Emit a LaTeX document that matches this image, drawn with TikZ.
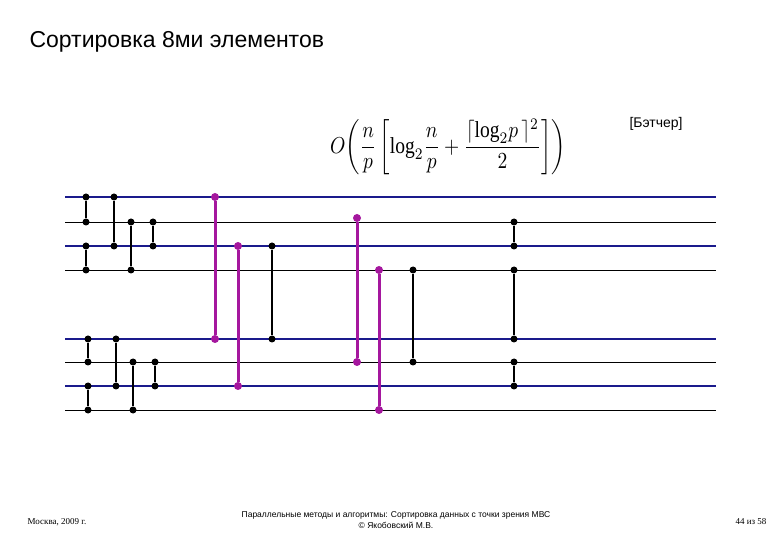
\documentclass[tikz,border=0pt]{standalone}
\usepackage{amsmath}
\usepackage{graphicx}
\usepackage{fontspec}
\setmainfont{Liberation Sans}
\newfontfamily\serif{Liberation Serif}
\definecolor{mag}{HTML}{A5179E}
\definecolor{wblue}{HTML}{1A1A8C}
\begin{document}
\begin{tikzpicture}[x=1pt,y=-1pt,
  bw/.style={draw=wblue,line width=2.2pt},
  tw/.style={draw=black,line width=0.8pt},
  bc/.style={draw=black,line width=1.8pt},
  mc/.style={draw=mag,line width=3pt},
  bd/.style={circle,fill=black,inner sep=0pt,minimum size=7pt},
  md/.style={circle,fill=mag,inner sep=0pt,minimum size=8pt}]
\useasboundingbox (0,0) rectangle (780,540);
\node[anchor=west,font=\fontsize{23}{27}\selectfont] (title) at (26,42) {Сортировка 8ми элементов};
\node[anchor=west,font=\fontsize{14}{16}\selectfont] (ref) at (626,124) {[Бэтчер]};
\node (f) at (448,147) {\scalebox{1.95}[2.3]{$\displaystyle O\!\left(\frac{n}{p}\left[\text{\serif log}_2\frac{n}{p}+\frac{\lceil\text{\serif log}_2 p\,\rceil^2}{2}\right]\right)$}};
\foreach \i/\y in {1/197,3/246,5/339,7/386} \draw[bw] (65,\y) -- (716,\y);
\foreach \i/\y in {2/222,4/270,6/362,8/410} \draw[tw] (65,\y) -- (716,\y);
\foreach \x/\a/\b in {86/197/222,86/246/270,114/197/246,131/222/270,153/222/246,88/339/362,88/386/410,116/339/386,133/362/410,155/362/386,272/246/339,413/270/362,514/222/246,514/270/339,514/362/386}{
  \node[bd] (a\x\a) at (\x,\a) {}; \node[bd] (b\x\b) at (\x,\b) {};
  \draw[bc] (a\x\a) -- (b\x\b);}
\foreach \x/\a/\b in {215/197/339,238/246/386,357/218/362,379/270/410}{
  \node[md] (a\x\a) at (\x,\a) {}; \node[md] (b\x\b) at (\x,\b) {};
  \draw[mc] (a\x\a) -- (b\x\b);}
\node[font=\serif\fontsize{9}{11}\selectfont] (l) at (57,522) {Москва, 2009 г.};
\node[font=\fontsize{8.5}{10.5}\selectfont,align=center] (c) at (396,520) {Параллельные методы и алгоритмы: Сортировка данных с точки зрения МВС\\© Якобовский М.В.};
\node[font=\serif\fontsize{9}{11}\selectfont] (r) at (751,522) {44 из 58};
\end{tikzpicture}
\end{document}
